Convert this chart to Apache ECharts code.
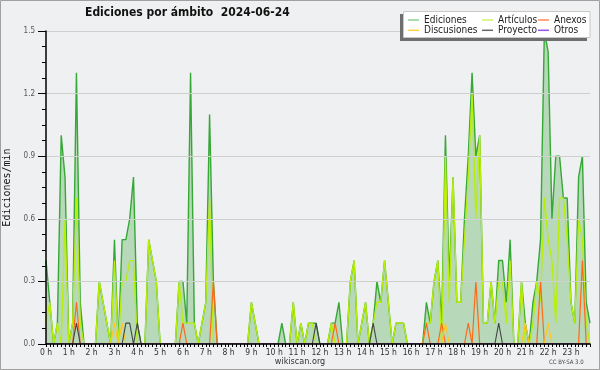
<!DOCTYPE html>
<html><head><meta charset="utf-8">
<script src="https://cdn.jsdelivr.net/npm/echarts@6/dist/echarts.min.js"></script>
<style>html,body{margin:0;padding:0;background:#eff0f1}#c{width:600px;height:370px}</style>
</head><body><div id="c"></div>
<script>
const hourLabels = ['0 h','1 h','2 h','3 h','4 h','5 h','6 h','7 h','8 h','9 h','10 h','11 h','12 h','13 h','14 h','15 h','16 h','17 h','18 h','19 h','20 h','21 h','22 h','23 h'];
const minuteSlots = ['00','10','20','30','40','50'];
const yTicks = [0, 0.3, 0.6, 0.9, 1.2, 1.5];
const categories = [];
hourLabels.forEach((h, hi) => minuteSlots.forEach(m => categories.push(hi + ':' + m)));

// Ediciones/min per 10-minute slot
const ediciones = [
  0.4,0.2,0,0.1,1.0,0.8,   0,0.1,1.3,0.2,0,0,   0,0,0.3,0.2,0.1,0,   0.5,0,0.5,0.5,0.6,0.8,
  0.1,0,0,0.5,0.4,0.3,     0,0,0,0,0,0.3,       0.3,0.1,1.3,0.1,0,0.1, 0.2,1.1,0.3,0,0,0,
  0,0,0,0,0,0,             0.2,0.1,0,0,0,0,     0,0,0.1,0,0,0.2,     0,0.1,0,0.1,0.1,0.1,
  0,0,0,0.1,0.1,0.2,       0,0,0.3,0.4,0,0.1,   0.2,0,0.1,0.3,0.2,0.4, 0.2,0,0.1,0.1,0.1,0,
  0,0,0,0,0.2,0.1,         0.3,0.4,0.1,1.0,0.3,0.8, 0.2,0.2,0.6,0.9,1.3,0.9, 1.0,0.1,0.1,0.3,0.1,0.4,
  0.4,0.2,0.5,0,0,0.3,     0.1,0,0.2,0.3,0.5,1.5, 1.4,0.6,0.9,0.9,0.7,0.7, 0.2,0.1,0.8,0.9,0.2,0.1
];
const articulos = [
  0.1,0.2,0,0.1,0,0.6,     0,0.1,0.7,0.1,0,0,   0,0,0.3,0.2,0.1,0,   0.4,0,0.3,0.3,0.4,0.4,
  0,0,0,0.5,0.4,0.3,       0,0,0,0,0,0.3,       0.1,0.1,0.1,0.1,0,0.1, 0.2,0.7,0,0,0,0,
  0,0,0,0,0,0,             0.2,0.1,0,0,0,0,     0,0,0,0,0,0.2,       0,0.1,0,0.1,0.1,0,
  0,0,0,0.1,0,0,           0,0,0.3,0.4,0,0.1,   0.2,0,0.1,0.2,0.2,0.4, 0.2,0,0.1,0.1,0.1,0,
  0,0,0,0,0.1,0.1,         0.3,0.4,0,0.9,0.2,0.8, 0.2,0.2,0.5,0.8,1.2,0.6, 1.0,0.1,0.1,0.3,0.1,0.3,
  0.3,0.1,0.4,0,0,0.3,     0,0,0.1,0.3,0.2,0.7, 0.5,0.4,0.1,0.7,0.7,0.5, 0.2,0.1,0.6,0.5,0.1,0
];
const anexos = [
  0,0,0,0,0,0,  0,0,0.2,0,0,0,  0,0,0,0,0,0,  0,0,0,0,0,0,
  0,0,0,0,0,0,  0,0,0,0,0,0,    0.1,0,0,0,0,0, 0,0,0.3,0,0,0,
  0,0,0,0,0,0,  0,0,0,0,0,0,    0,0,0,0,0,0,  0,0,0,0,0,0,
  0,0,0,0,0.1,0, 0,0,0,0,0,0,   0,0,0,0,0,0,  0,0,0,0,0,0,
  0,0,0,0,0.1,0, 0,0,0.1,0,0,0, 0,0,0,0.1,0,0.3, 0,0,0,0,0,0,
  0,0,0,0,0,0,  0,0,0,0,0.3,0,  0,0,0,0,0,0,  0,0,0,0.4,0,0
];
const discusiones = [
  0,0,0,0,0,0,  0,0,0,0,0,0,  0,0,0,0,0,0,  0.1,0,0.1,0,0,0,
  0,0,0,0,0,0,  0,0,0,0,0,0,  0,0,0,0,0,0,  0,0,0,0,0,0,
  0,0,0,0,0,0,  0,0,0,0,0,0,  0,0,0,0,0,0,  0,0,0,0,0,0,
  0,0,0,0,0,0,  0,0,0,0,0,0,  0,0,0,0,0,0,  0,0,0,0,0,0,
  0,0,0,0,0,0,  0,0,0,0.1,0,0, 0,0,0,0,0,0, 0,0,0,0,0,0,
  0,0,0,0,0,0,  0.1,0,0,0,0,0, 0.1,0,0,0,0,0, 0,0,0,0,0,0
];
const proyecto = [
  0,0,0,0,0,0,  0,0,0.1,0,0,0,  0,0,0,0,0,0,  0,0,0,0.1,0.1,0,
  0.1,0,0,0,0,0, 0,0,0,0,0,0,   0,0,0,0,0,0,  0,0,0,0,0,0,
  0,0,0,0,0,0,  0,0,0,0,0,0,    0,0,0,0,0,0,  0,0,0,0,0,0.1,
  0,0,0,0,0,0,  0,0,0,0,0,0,    0,0,0.1,0,0,0, 0,0,0,0,0,0,
  0,0,0,0,0,0,  0,0,0,0,0,0,    0,0,0,0,0,0,  0,0,0,0,0,0.1,
  0,0,0,0,0,0,  0,0,0,0,0,0,    0,0,0,0,0,0,  0,0,0,0,0,0
];
const otros = new Array(144).fill(0);

const FONT = "'DejaVu Sans Condensed','DejaVu Sans'";
const colors = {Ediciones:'#36a836', 'Artículos':'#b8ee08', Anexos:'#ff6a1a', Discusiones:'#ffc820', Proyecto:'#444444', Otros:'#9a44ee'};
const legendColors = {Ediciones:'#8fd28f', 'Artículos':'#d2f26a', Anexos:'#ff8a5a', Discusiones:'#ffd24a', Proyecto:'#666666', Otros:'#9a55e6'};

function mk(name, data, width, extra) {
  return Object.assign({
    name, type:'line', data, symbol:'none', showSymbol:false, animation:false,
    lineStyle:{color:colors[name], width}, itemStyle:{color:legendColors[name]}
  }, extra || {});
}

const legendBase = {
  orient:'vertical', top:15, padding:0, icon:'rect', itemWidth:11, itemHeight:1.5, itemGap:0.3, z:20,
  textStyle:{fontFamily:FONT, fontSize:10, color:'#222', lineHeight:9},
  selectedMode:false
};

const chart = echarts.init(document.getElementById('c'), null, {renderer:'canvas'});
chart.setOption({
  backgroundColor:'#eff0f1',
  animation:false,
  title:{text:'Ediciones por ámbito  2024-06-24', left:85, top:7, padding:0,
    textStyle:{fontFamily:FONT, fontSize:12, fontWeight:'bold', color:'#111'}},
  grid:{left:46, right:10, top:31, bottom:26, outerBoundsMode:'none'},
  xAxis:{type:'category', data:categories, boundaryGap:false, z:5,
    axisLine:{lineStyle:{color:'#000', width:1.5}},
    axisTick:{interval:0, length:3, lineStyle:{color:'#000'}},
    axisLabel:{interval:5, margin:4, fontFamily:FONT, fontSize:8.5, color:'#333',
      formatter:(v, idx) => hourLabels[Math.floor(idx/6)]},
    splitLine:{show:false}},
  yAxis:{type:'value', min:yTicks[0], max:yTicks[yTicks.length-1], interval:0.3, z:5,
    name:'Ediciones/min', nameLocation:'middle', nameGap:31, nameRotate:90,
    nameTextStyle:{fontFamily:"'DejaVu Sans Mono'", fontSize:10, color:'#111'},
    axisLine:{show:true, lineStyle:{color:'#000', width:1.5}},
    axisTick:{show:true, length:8, lineStyle:{color:'#000'}},
    minorTick:{show:true, splitNumber:4, length:4, lineStyle:{color:'#000'}},
    axisLabel:{margin:11, fontFamily:FONT, fontSize:8, color:'#555', formatter:v => v.toFixed(1)},
    splitLine:{lineStyle:{color:'#cfcfcf', width:1}}},
  legend:[
    Object.assign({}, legendBase, {left:408, data:['Ediciones','Discusiones']}),
    Object.assign({}, legendBase, {left:482, data:['Artículos','Proyecto']}),
    Object.assign({}, legendBase, {left:538, data:['Anexos','Otros']})
  ],
  graphic:[
    {type:'rect', shape:{x:0.5, y:0.5, width:599, height:369}, style:{fill:'none', stroke:'#a0a0a0', lineWidth:1}, z:100},
    {type:'rect', shape:{x:400, y:14, width:187, height:27}, style:{fill:'#6e6e6e'}, z:8},
    {type:'rect', shape:{x:403.5, y:11.5, width:186.5, height:26}, style:{fill:'#ffffff', stroke:'#c8c8c8', lineWidth:1}, z:9},
    {type:'text', left:'center', top:357, style:{text:'wikiscan.org', font:"9px 'DejaVu Sans Condensed','DejaVu Sans'", fill:'#333'}, z:100},
    {type:'text', left:549, top:359, style:{text:'CC BY-SA 3.0', font:"6px 'DejaVu Sans Condensed','DejaVu Sans'", fill:'#444'}, z:100}
  ],
  series:[
    mk('Ediciones', ediciones, 1.4, {areaStyle:{color:'rgba(50,160,50,0.42)'}, z:2}),
    mk('Artículos', articulos, 1.3, {z:3}),
    mk('Anexos', anexos, 1.2, {z:4}),
    mk('Discusiones', discusiones, 1.2, {z:4}),
    mk('Proyecto', proyecto, 1.1, {z:4}),
    mk('Otros', otros, 1.1, {z:4})
  ]
});
</script></body></html>
